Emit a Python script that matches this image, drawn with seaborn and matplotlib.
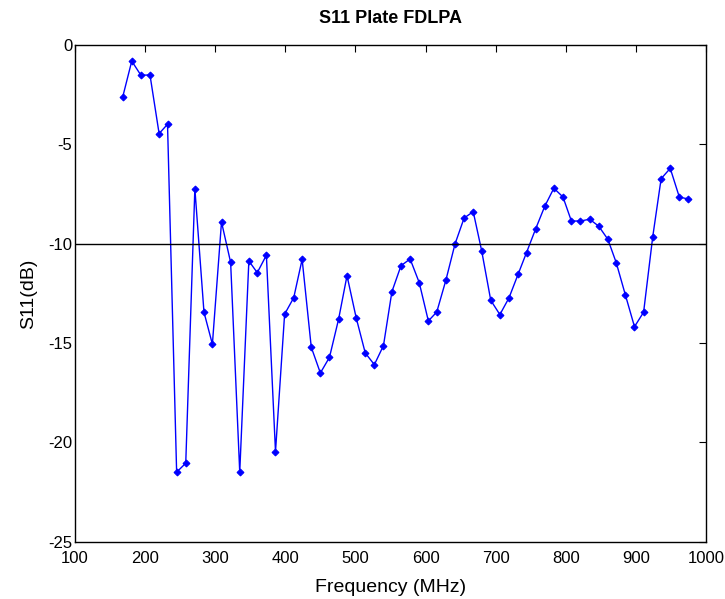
import numpy as np
import pandas as pd
import matplotlib
matplotlib.use("Agg")
import matplotlib.pyplot as plt
import seaborn as sns

freq_mhz = [168, 181, 194, 207, 220, 232, 245, 258, 271, 284,
            296, 309, 322, 335, 348, 360, 373, 386, 399, 412,
            424, 437, 450, 463, 476, 488, 501, 514, 527, 540,
            552, 565, 578, 591, 604, 616, 629, 642, 655, 668,
            680, 693, 706, 719, 732, 744, 757, 770, 783, 796,
            808, 821, 834, 847, 860, 872, 885, 898, 911, 924,
            936, 949, 962, 975]
s11_db = [-2.63, -0.81, -1.52, -1.51, -4.46, -3.99, -21.50, -21.05, -7.23, -13.45,
          -15.06, -8.91, -10.94, -21.50, -10.87, -11.46, -10.58, -20.47, -13.55, -12.72,
          -10.79, -15.21, -16.51, -15.72, -13.80, -11.61, -13.72, -15.50, -16.09, -15.13,
          -12.42, -11.11, -10.77, -11.96, -13.89, -13.44, -11.84, -10.02, -8.71, -8.39,
          -10.35, -12.85, -13.57, -12.73, -11.54, -10.45, -9.26, -8.12, -7.21, -7.65,
          -8.86, -8.86, -8.77, -9.12, -9.78, -10.96, -12.58, -14.18, -13.45, -9.66,
          -6.73, -6.21, -7.66, -7.75]
threshold_db = -10
x_ticks = [100, 200, 300, 400, 500, 600, 700, 800, 900, 1000]
y_ticks = [0, -5, -10, -15, -20, -25]

df = pd.DataFrame({"freq": freq_mhz, "s11": s11_db})

sns.set_style("white")
plt.rcParams["font.family"] = ["Liberation Sans", "DejaVu Sans"]
plt.rcParams["axes.unicode_minus"] = False
plt.rcParams["xtick.direction"] = "in"
plt.rcParams["ytick.direction"] = "in"
plt.rcParams["text.color"] = "black"
plt.rcParams["axes.labelcolor"] = "black"
plt.rcParams["xtick.color"] = "black"
plt.rcParams["ytick.color"] = "black"

fig = plt.figure(figsize=(7.25, 5.99), dpi=100)
ax = fig.add_axes([0.1034, 0.0957, 0.8704, 0.8292])

sns.lineplot(data=df, x="freq", y="s11", color="blue", linewidth=1.0,
             marker="D", markersize=3.5, markeredgecolor="blue", ax=ax)
ax.axhline(threshold_db, color="black", linewidth=1.0)

ax.set_xlim(100, 1000)
ax.set_ylim(-25, 0)
ax.set_xticks(x_ticks)
ax.set_yticks(y_ticks)
ax.tick_params(axis="both", labelsize=12, length=5, width=0.8,
               top=True, right=True, pad=2)
ax.tick_params(axis="x", pad=7)
for s in ax.spines.values():
    s.set_color("black")
    s.set_linewidth(1.0)

ax.set_title("S11 Plate FDLPA", fontsize=13, fontweight="bold", pad=16)
ax.set_xlabel("Frequency (MHz)", fontsize=14, labelpad=9)
ax.set_ylabel("S11(dB)", fontsize=14, labelpad=8)

fig.savefig("out.png", dpi=100, facecolor="white")
